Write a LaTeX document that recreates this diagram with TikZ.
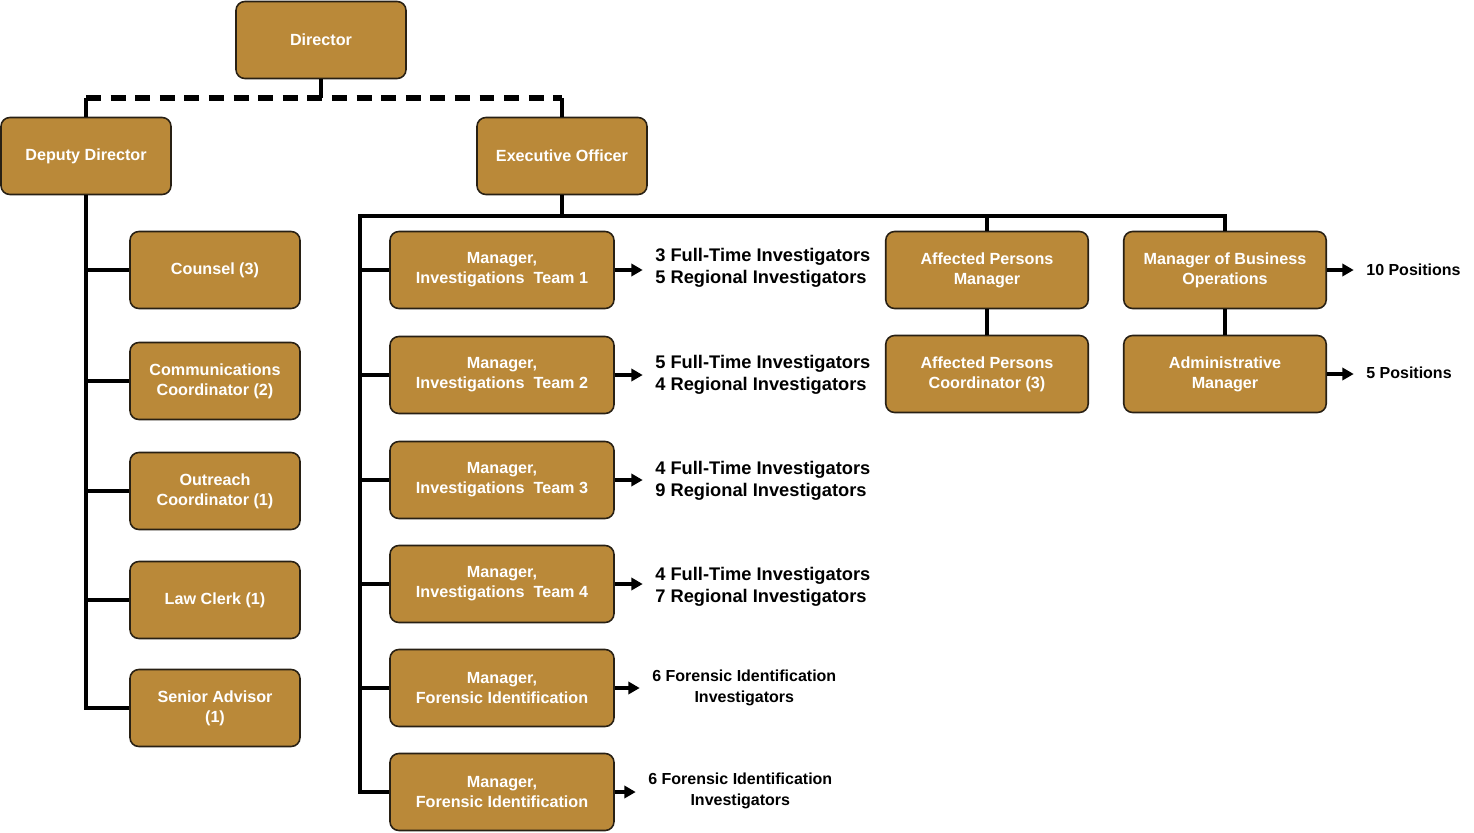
\documentclass[tikz,border=0pt]{standalone}
\usepackage{fontspec}
\setmainfont{Liberation Sans}
\usetikzlibrary{arrows.meta}
\definecolor{boxgold}{RGB}{186,137,57}
\definecolor{boxline}{RGB}{40,32,20}
\tikzset{
  box/.style={draw=boxline, line width=0.9pt, fill=boxgold, rounded corners=5pt, text=white,
    font=\bfseries\fontsize{9.2}{11.3}\selectfont, align=center, minimum height=1.54cm},
  unitbox/.style={box, minimum width=3.4cm},
  teambox/.style={box, minimum width=4.48cm},
  sidebox/.style={box, minimum width=4.05cm},
  link/.style={line width=2pt},
  dotlink/.style={line width=3pt, dash pattern=on 8.5pt off 5.5pt},
  arr/.style={line width=2pt, -{Triangle[length=6.5pt,width=7pt]}, shorten >=7pt},
  staff/.style={font=\bfseries\fontsize{10.4}{12.5}\selectfont, align=left, anchor=west, inner sep=0pt},
  fstaff/.style={font=\bfseries\fontsize{9.1}{12}\selectfont, align=center, anchor=west, inner sep=0pt}
}
\begin{document}
\begin{tikzpicture}[x=0.02cm, y=-0.02cm]
    \useasboundingbox (0,0) rectangle (1474,832);
    % Top
    \node[unitbox] (dir) at (321,40) {Director};
    \node[unitbox] (dep) at (86,156) {Deputy Director};
    \node[unitbox] (exo) at (562,156) {Executive Officer};
    \coordinate (dbus) at (321,98);
    \draw[link] (dir.south) -- (dbus);
    \draw[dotlink] (dep.north |- dbus) -- (exo.north |- dbus);
    \draw[link] (dep.north) -- (dep.north |- dbus);
    \draw[link] (exo.north) -- (exo.north |- dbus);
    % Deputy side
    \node[unitbox] (cou) at (215,270) {Counsel (3)};
    \node[unitbox] (com) at (215,381) {Communications\\Coordinator (2)};
    \node[unitbox] (out) at (215,491) {Outreach\\Coordinator (1)};
    \node[unitbox] (law) at (215,600) {Law Clerk (1)};
    \node[unitbox] (sen) at (215,708) {Senior Advisor\\(1)};
    \draw[link] (dep.south) |- (sen.west);
    \foreach \b in {cou,com,out,law}
        \draw[link] (dep.south |- \b.west) -- (\b.west);
    % Executive side
    \coordinate (ebus) at (562,216);
    \coordinate (espine) at (360,216);
    \node[teambox] (t1) at (502,270) {Manager,\\Investigations~~Team 1};
    \node[teambox] (t2) at (502,375) {Manager,\\Investigations~~Team 2};
    \node[teambox] (t3) at (502,480) {Manager,\\Investigations~~Team 3};
    \node[teambox] (t4) at (502,584) {Manager,\\Investigations~~Team 4};
    \node[teambox] (f1) at (502,688) {Manager,\\Forensic Identification};
    \node[teambox] (f2) at (502,792) {Manager,\\Forensic Identification};
    \draw[link] (exo.south) -- (ebus);
    \draw[link] (ebus) -- (espine) |- (f2.west);
    \foreach \b in {t1,t2,t3,t4,f1}
        \draw[link] (espine |- \b.west) -- (\b.west);
    % Staff under each team
    \node[staff] (s1) at (655,268) {3 Full-Time Investigators\\5 Regional Investigators};
    \node[staff] (s2) at (655,375) {5 Full-Time Investigators\\4 Regional Investigators};
    \node[staff] (s3) at (655,481) {4 Full-Time Investigators\\9 Regional Investigators};
    \node[staff] (s4) at (655,587) {4 Full-Time Investigators\\7 Regional Investigators};
    \node[fstaff] (s5) at (652,688) {6 Forensic Identification\\Investigators};
    \node[fstaff] (s6) at (648,791) {6 Forensic Identification\\Investigators};
    \draw[arr] (t1.east) -- (t1.east -| s1.west);
    \draw[arr] (t2.east) -- (t2.east -| s2.west);
    \draw[arr] (t3.east) -- (t3.east -| s3.west);
    \draw[arr] (t4.east) -- (t4.east -| s4.west);
    \draw[arr] (f1.east) -- (f1.east -| s5.west);
    \draw[arr] (f2.east) -- (f2.east -| s6.west);
    % Affected persons and business operations
    \node[sidebox] (apm) at (987,270) {Affected Persons\\Manager};
    \node[sidebox] (apc) at (987,374) {Affected Persons\\Coordinator (3)};
    \node[sidebox] (mbo) at (1225,270) {Manager of Business\\Operations};
    \node[sidebox] (adm) at (1225,374) {Administrative\\Manager};
    \draw[link] (ebus) -| (apm.north);
    \draw[link] (ebus) -| (mbo.north);
    \draw[link] (apm.south) -- (apc.north);
    \draw[link] (mbo.south) -- (adm.north);
    \node[staff, font=\bfseries\fontsize{9.1}{11}\selectfont] (p1) at (1366,270) {10 Positions};
    \node[staff, font=\bfseries\fontsize{9.1}{11}\selectfont] (p2) at (1366,373) {5 Positions};
    \draw[arr] (mbo.east) -- (mbo.east -| p1.west);
    \draw[arr] (adm.east) -- (adm.east -| p2.west);
\end{tikzpicture}
\end{document}
